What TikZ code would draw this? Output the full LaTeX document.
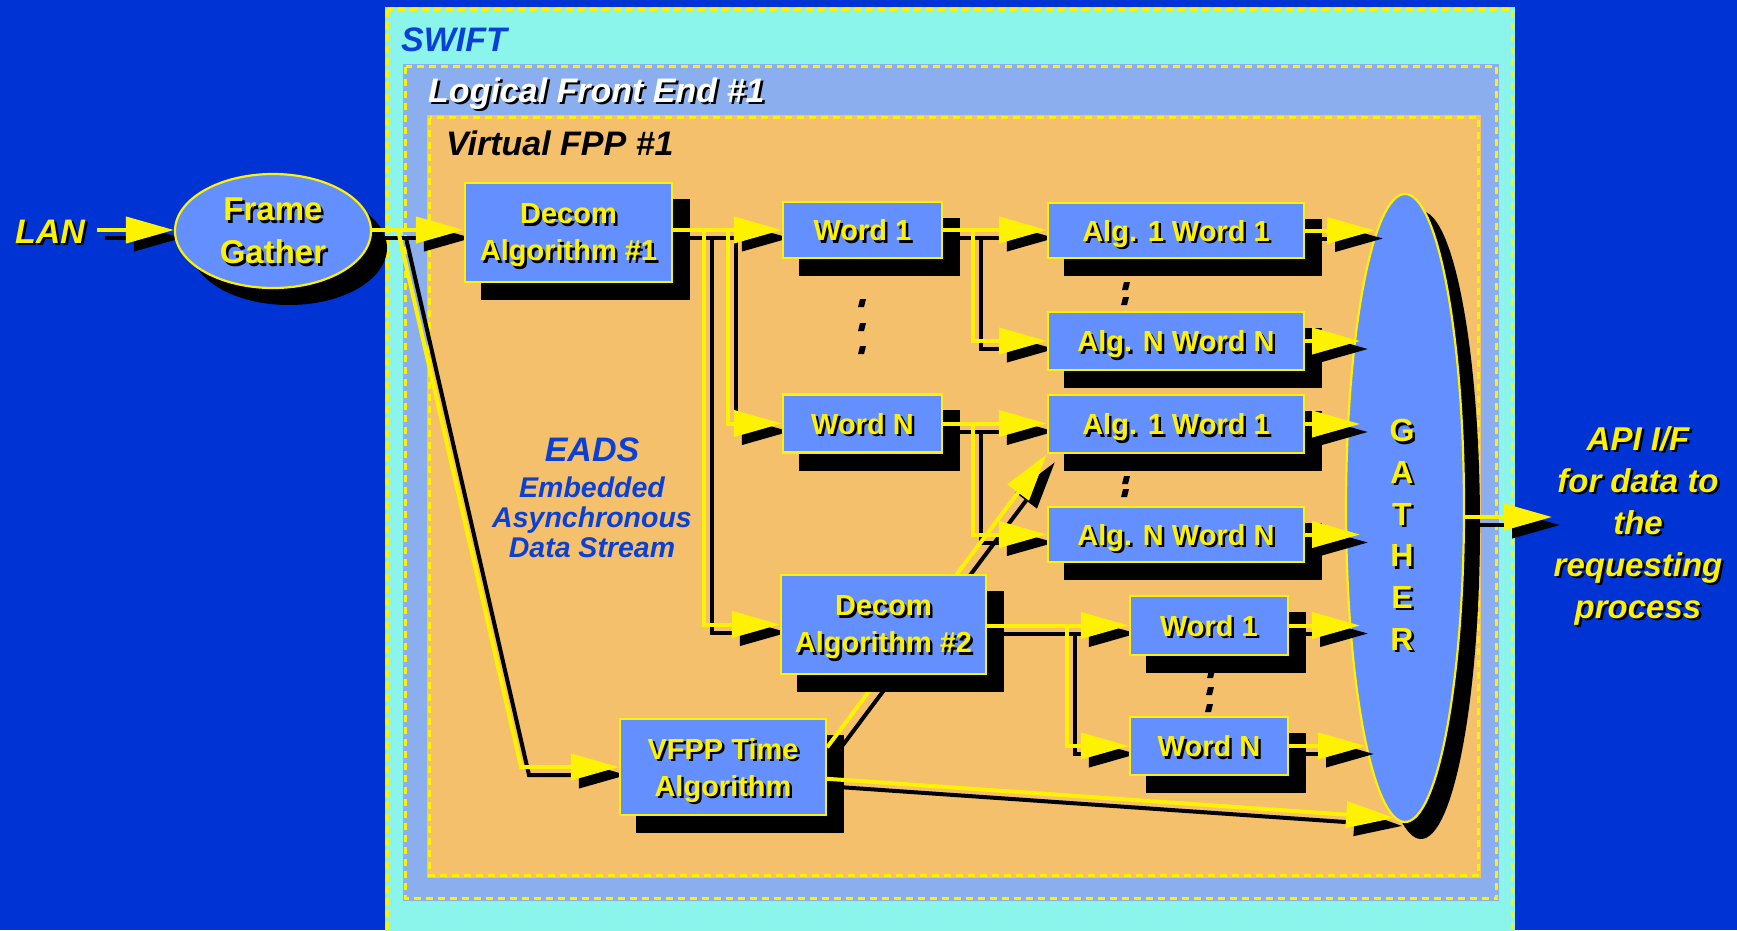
\documentclass[tikz,border=0pt]{standalone}
\usepackage{fontspec}
\setmainfont{Liberation Sans}
\usetikzlibrary{shapes.geometric,arrows.meta,calc}
\definecolor{bgblue}{RGB}{0,51,212}
\definecolor{cyanbox}{RGB}{140,245,235}
\definecolor{lfebox}{RGB}{138,174,238}
\definecolor{vfppbox}{RGB}{245,192,108}
\definecolor{nodeblue}{RGB}{100,144,255}
\definecolor{txtblue}{RGB}{10,64,214}
\pgfdeclarelayer{background}
\pgfdeclarelayer{nshadow}
\pgfdeclarelayer{ashadow}
\pgfdeclarelayer{diag}
\pgfdeclarelayer{dtwo}
\pgfsetlayers{background,nshadow,ashadow,diag,dtwo,main}
\newcommand\stx[1]{\leavevmode\rlap{\kern2.5pt\raisebox{-2.5pt}{\textcolor{black}{#1}}}#1}
\newcommand\dotm[2]{\fill[black] (#1-3,#2+4) -- (#1+3,#2+4) -- (#1+5,#2-4) -- (#1-1,#2-4) -- cycle;}
\begin{document}
\begin{tikzpicture}[x=1pt,y=-1pt,
  every node/.style={inner sep=0pt},
  box/.style={rectangle, draw=yellow, line width=2.2pt, fill=nodeblue, align=center, text=yellow,
    text depth=0pt, font=\fontsize{29}{37}\selectfont\bfseries},
  ell/.style={ellipse, draw=yellow, line width=2.2pt, fill=nodeblue, align=center, text=yellow,
    text depth=0pt},
  con/.style={line width=4pt, -{Triangle[length=48pt,width=26pt]}},
  ycon/.style={con, draw=yellow},
  scon/.style={con, draw=black},
  ttl/.style={anchor=base west, font=\fontsize{34}{40}\selectfont\bfseries\itshape},
  dashbox/.style={draw=yellow, line width=2.5pt, dash pattern=on 7pt off 5pt}]
\useasboundingbox (0,0) rectangle (1737,930);
\begin{pgfonlayer}{background}
\begin{scope}
\clip (0,0) rectangle (1737,930);
\fill[bgblue] (0,0) rectangle (1737,930);
\fill[cyanbox] (385,7) rectangle (1515,940);
\draw[dashbox] (387.5,9.5) rectangle (1512.5,945);
\fill[lfebox] (403,64) rectangle (1499,901);
\draw[dashbox] (405.5,66.5) rectangle (1496.5,898.5);
\fill[vfppbox] (427,115) rectangle (1481,878);
\draw[dashbox] (429.5,117.5) rectangle (1478.5,875.5);
\end{scope}
\dotm{861}{303}\dotm{861}{327}\dotm{861}{350}
\dotm{1125}{286}\dotm{1124}{301}
\dotm{1125}{480}\dotm{1124}{493}
\dotm{1210}{674}\dotm{1209}{691}\dotm{1208}{708}
\end{pgfonlayer}

% titles
\node[ttl, text=txtblue] (swift) at (401,51) {SWIFT};
\node[ttl, text=white] (lfe) at (428,102) {\stx{Logical Front End \#1}};
\node[ttl, text=black] (vfpp) at (446,155) {Virtual FPP \#1};
\node[anchor=base, text=yellow, font=\fontsize{34}{40}\selectfont\bfseries\itshape] (lan) at (50,243) {\stx{LAN}};
\node[text=txtblue, font=\fontsize{34}{40}\selectfont\bfseries\itshape] (eads) at (592,450) {EADS};
\node[text=txtblue, align=center, font=\fontsize{28.5}{30}\selectfont\bfseries\itshape] (eadsl) at (592,517)
  {Embedded\\Asynchronous\\Data Stream};
\node[text=yellow, align=center, font=\fontsize{33}{42}\selectfont\bfseries\itshape] (apil) at (1638,527)
  {\stx{API I/F}\\\stx{for data to}\\\stx{the}\\\stx{requesting}\\\stx{process}};

% GATHER ellipse (below arrow shadows)
\begin{pgfonlayer}{nshadow}
\fill[black] (1421,525) ellipse [x radius=59pt, y radius=314pt];
\node[ell, minimum width=118pt, minimum height=628pt] (gat) at (1405,508) {};
\end{pgfonlayer}
\node[text=yellow, align=center, font=\fontsize{32}{41.7}\selectfont\bfseries] (gtxt) at (1402,536)
  {\stx{G}\\\stx{A}\\\stx{T}\\\stx{H}\\\stx{E}\\\stx{R}};

% nodes
\node[ell, minimum width=196pt, minimum height=114pt, font=\fontsize{33}{43}\selectfont\bfseries] (fg) at (273,231) {\stx{Frame}\\\stx{Gather}};
\node[box, minimum width=207pt, minimum height=99pt] (dec1) at (568.5,232.5) {\stx{Decom}\\\stx{Algorithm \#1}};
\node[box, minimum width=159pt, minimum height=56pt] (w1) at (862.5,230) {\stx{Word 1}};
\node[box, minimum width=159pt, minimum height=58pt] (wN) at (862.5,423.5) {\stx{Word N}};
\node[box, minimum width=256pt, minimum height=55pt] (a1) at (1176,230.5) {\stx{Alg. 1 Word 1}};
\node[box, minimum width=256pt, minimum height=58pt] (aN) at (1176,341) {\stx{Alg. N Word N}};
\node[box, minimum width=256pt, minimum height=58pt] (a1b) at (1176,424) {\stx{Alg. 1 Word 1}};
\node[box, minimum width=256pt, minimum height=55pt] (aNb) at (1176,534.5) {\stx{Alg. N Word N}};
\node[box, minimum width=205pt, minimum height=99pt] (dec2) at (883.5,624.5) {\stx{Decom}\\\stx{Algorithm \#2}};
\node[box, minimum width=158pt, minimum height=59pt] (w1b) at (1209,625.5) {\stx{Word 1}};
\node[box, minimum width=158pt, minimum height=58pt] (wNb) at (1209,746) {\stx{Word N}};
\node[box, minimum width=206pt, minimum height=96pt] (vt) at (723,767) {\stx{VFPP Time}\\\stx{Algorithm}};

% node shadows
\begin{pgfonlayer}{nshadow}
\foreach \n in {dec1,w1,wN,a1,aN,a1b,aNb,w1b,wNb,vt}
  \fill[black] ($(\n.north west)+(17,17)$) rectangle ($(\n.south east)+(17,17)$);
\fill[black] ($(fg.center)+(16,17)$) ellipse [x radius=98pt, y radius=57pt];
\end{pgfonlayer}
\begin{pgfonlayer}{dtwo}
\fill[black] ($(dec2.north west)+(17,17)$) rectangle ($(dec2.south east)+(17,17)$);
\end{pgfonlayer}

% helper coordinates
\coordinate (lanst) at (97,230);
\coordinate (j0) at (398,230);
\coordinate (j1) at (521,767);
\coordinate (b1) at (704,0);
\coordinate (b2) at (728,0);
\coordinate (b3) at (973,0);
\coordinate (b4) at (1067,0);
\coordinate (gxa) at (1375,0);
\coordinate (gxb) at (1360,0);
\coordinate (gxc) at (1366,0);
\coordinate (api) at (1552,517);

\def\pLAN{(lanst) -- (lanst -| fg.west)}
\def\pFD{(j0 -| fg.east) -- (j0 -| dec1.west)}
\def\pFV{(j0) -- (j1) -- (j1 -| vt.west)}
\def\pDW{(dec1.east |- w1.west) -- (w1.west)}
\def\pDWN{(b2 |- w1.west) -- (b2 |- wN.west) -- (wN.west)}
\def\pDD{(b1 |- w1.west) -- (b1 |- dec2.west) -- (dec2.west)}
\def\pWA{(w1.east) -- (w1.east -| a1.west)}
\def\pWAN{(b3 |- w1.east) -- (b3 |- aN.west) -- (aN.west)}
\def\pNA{(wN.east) -- (wN.east -| a1b.west)}
\def\pNAN{(b3 |- wN.east) -- (b3 |- aNb.west) -- (aNb.west)}
\def\pVA{($(vt.north east)!0.3!(vt.south east)$) -- (a1b.south west)}
\def\pVG{($(vt.north east)!0.62!(vt.south east)$) -- (gat.268)}
\def\pDWb{(dec2.east |- w1b.west) -- (w1b.west)}
\def\pDWNb{(b4 |- w1b.west) -- (b4 |- wNb.west) -- (wNb.west)}
\def\pGa{(a1.east) -- (a1.east -| gxa)}
\def\pGb{(aN.east) -- (aN.east -| gxb)}
\def\pGc{(a1b.east) -- (a1b.east -| gxb)}
\def\pGd{(aNb.east) -- (aNb.east -| gxb)}
\def\pGe{(w1b.east) -- (w1b.east -| gxb)}
\def\pGf{(wNb.east) -- (wNb.east -| gxc)}
\def\pAPI{(api -| gat.east) -- (api)}

% connector shadows
\begin{pgfonlayer}{ashadow}
\begin{scope}[transform canvas={shift={(8pt,-8pt)}}]
\draw[scon] \pLAN; \draw[scon] \pFD; \draw[scon] \pFV;
\draw[scon] \pDW; \draw[scon] \pDWN; \draw[scon] \pDD;
\draw[scon] \pWA; \draw[scon] \pWAN; \draw[scon] \pNA; \draw[scon] \pNAN;
\draw[scon] \pVA; \draw[scon] \pVG;
\draw[scon] \pDWb; \draw[scon] \pDWNb;
\draw[scon] \pGa; \draw[scon] \pGb; \draw[scon] \pGc; \draw[scon] \pGd;
\draw[scon] \pGe; \draw[scon] \pGf; \draw[scon] \pAPI;
\end{scope}
\end{pgfonlayer}

% diagonal under Decom #2
\begin{pgfonlayer}{diag}
\draw[ycon] \pVA;
\end{pgfonlayer}

% yellow connectors
\draw[ycon] \pLAN; \draw[ycon] \pFD; \draw[ycon] \pFV;
\draw[ycon] \pDW; \draw[ycon] \pDWN; \draw[ycon] \pDD;
\draw[ycon] \pWA; \draw[ycon] \pWAN; \draw[ycon] \pNA; \draw[ycon] \pNAN;
\draw[ycon] \pVG;
\draw[ycon] \pDWb; \draw[ycon] \pDWNb;
\draw[ycon] \pGa; \draw[ycon] \pGb; \draw[ycon] \pGc; \draw[ycon] \pGd;
\draw[ycon] \pGe; \draw[ycon] \pGf; \draw[ycon] \pAPI;
\end{tikzpicture}
\end{document}
